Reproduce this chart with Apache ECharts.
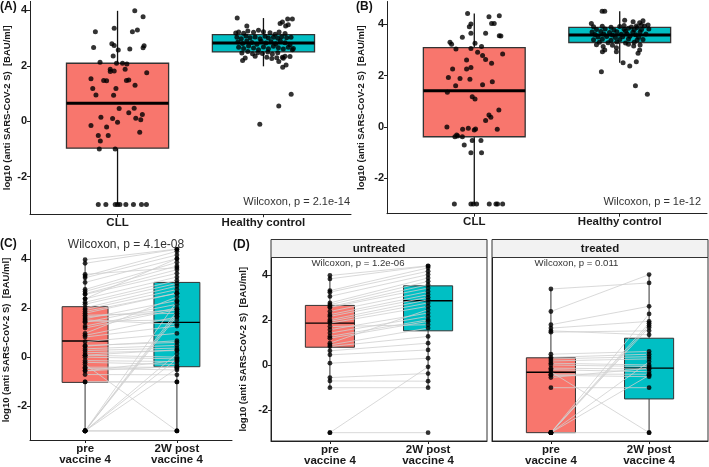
<!DOCTYPE html>
<html><head><meta charset="utf-8">
<script src="https://cdn.jsdelivr.net/npm/echarts@6/dist/echarts.min.js"></script>
<style>html,body{margin:0;padding:0;background:#fff}#c{width:709px;height:467px}</style>
</head><body><div id="c"></div>
<script>
// ---------------- DATA ----------------
const groupsAB = ['CLL', 'Healthy control'];
const groupsCD = ['pre\nvaccine 4', '2W post\nvaccine 4'];
const facets = ['untreated', 'treated'];
const yTicks = [-2, 0, 2, 4];

// box stats: [lower whisker, Q1, median, Q3, upper whisker]
const boxA = [[-3, -0.97, 0.65, 2.09, 3.98], [1.98, 2.50, 2.82, 3.12, 3.72]];
const boxB = [[-3, -0.38, 1.41, 3.09, 4.42], [2.50, 3.29, 3.58, 3.88, 4.51]];
const boxC = [[-3, -1.02, 0.67, 2.07, 3.99], [-3, -0.38, 1.43, 3.06, 4.42]];
const boxDUntreated = [[-1.0, 0.80, 1.87, 2.66, 3.99], [-1.0, 1.53, 2.87, 3.53, 4.42]];
const boxDTreated = [[-3, -3, -0.31, 0.33, 3.39], [-3, -1.5, -0.13, 1.20, 4.03]];

// jittered points: [jitter offset, value]
const cllA = [[0.118,3.98],[0.175,3.77],[-0.152,3.23],[-0.023,3.35],[0.102,3.23],[0.136,3.29],[-0.164,2.66],[-0.039,2.79],
 [-0.023,2.73],[0.084,2.60],[0.182,2.72],[0.175,2.65],[0.005,2.57],[-0.03,2.35],[-0.12,2.13],[-0.007,2.09],[0.034,2.09],
 [0.064,2.06],[-0.05,1.87],[-0.023,1.81],[-0.05,1.79],[0.052,1.87],[0.2,1.75],[-0.182,1.53],[-0.095,1.47],[-0.075,1.46],
 [0.061,1.47],[0.077,1.49],[-0.17,1.18],[-0.011,1.18],[0.12,1.30],[-0.148,0.95],[-0.027,0.94],[0.011,0.46],[-0.114,0.14],
 [-0.034,0.10],[0.077,0.31],[0.114,0.47],[0.125,0.11],[0.159,0.05],[0.17,0.24],[-0.182,-0.15],[-0.075,-0.21],[0,-0.04],
 [0.152,-0.40],[-0.132,-0.51],[-0.064,-0.51],[-0.118,-0.71],[-0.125,-1.0],[-0.016,-1.0],
 [-0.132,-3],[-0.08,-3],[-0.016,-3],[0,-3],[0.016,-3],[0.057,-3],[0.109,-3],[0.164,-3],[0.198,-3]];
const hcA = [[-0.18,3.72],[0.114,3.52],[0.13,3.58],[0.166,3.69],[0.198,3.69],[0.152,3.43],[0.17,3.48],[-0.114,3.43],
 [-0.19,3.18],[0.198,2.58],[0.148,2.34],[0.13,2.31],[-0.125,2.28],[-0.143,2.19],[0.132,1.95],[0.19,0.97],[0.105,0.55],
 [-0.025,-0.11],[0.105,2.15],[0.136,2.27],[0.155,2.03],[0.182,2.33],
 [-0.170,3.22],[-0.136,3.17],[-0.107,3.25],[-0.068,3.21],[-0.034,3.28],[0,3.23],[0.045,3.19],[0.080,3.14],[0.107,3.22],[0.148,3.16],
 [-0.182,3.03],[-0.152,2.97],[-0.120,3.07],[-0.091,3.01],[-0.057,3.04],[-0.023,2.97],[0.011,3.06],[0.034,3.00],[0.068,3.03],
 [0.098,2.99],[0.125,3.05],[0.159,3.01],[0.189,3.03],
 [-0.175,2.86],[-0.143,2.80],[-0.114,2.89],[-0.080,2.84],[-0.045,2.78],[-0.016,2.88],[0.016,2.82],[0.052,2.87],[0.084,2.79],
 [0.116,2.89],[0.148,2.83],[0.182,2.76],
 [-0.170,2.67],[-0.136,2.62],[-0.102,2.71],[-0.068,2.64],[-0.034,2.58],[0,2.68],[0.034,2.61],[0.068,2.70],[0.102,2.65],
 [0.136,2.60],[0.170,2.67],[0.205,2.62],
 [-0.148,2.46],[-0.107,2.51],[-0.075,2.43],[-0.039,2.47],[-0.007,2.44],[0.030,2.50],[0.061,2.42],[0.098,2.47],
 [-0.057,2.34],[0.023,2.31],[0.057,2.26],[0.091,2.29]];
const cllB = [[-0.046,4.42],[-0.023,4.01],[-0.034,3.90],[-0.023,3.65],[-0.082,3.49],[0.101,4.29],[0.172,4.33],[0.119,4.03],
 [0.137,4.03],[0.078,3.65],[0.172,3.55],[0.183,3.54],[-0.167,3.30],[-0.156,3.22],[-0.126,3.04],[0.005,3.26],[-0.023,3.06],
 [0.050,3.13],[0.023,2.91],[0.057,2.78],[0.078,2.63],[0.195,2.84],[-0.053,2.61],[0.119,2.48],[-0.149,2.26],[-0.053,2.26],
 [-0.023,2.32],[-0.178,1.93],[-0.098,1.89],[-0.030,1.86],[0.124,1.76],[-0.128,1.61],[0.057,1.64],[-0.185,1.35],[-0.014,1.18],
 [0.005,1.09],[0.169,0.66],[0.101,0.47],[0.114,0.38],[0.078,0.25],[-0.188,0.00],[-0.080,-0.09],[-0.041,-0.05],[0.000,-0.12],
 [0.009,-0.08],[0.158,-0.09],[-0.133,-0.38],[-0.121,-0.31],[-0.114,-0.35],[-0.082,-0.38],[-0.069,-0.70],[-0.014,-0.53],
 [0.046,-0.53],[-0.023,-1.00],[0.050,-1.00],
 [-0.137,-3],[-0.023,-3],[-0.007,-3],[0.016,-3],[0.103,-3],[0.149,-3],[0.160,-3],[0.195,-3]];
const hcB = [[-0.121,4.51],[-0.103,4.51],[-0.126,2.15],[0.023,2.50],[0.069,2.37],[0.114,2.54],[0.108,1.61],[0.19,1.27],
 [-0.114,3.13],[-0.103,3.0],[-0.119,2.93],[-0.023,3.09],[-0.023,2.93],[0.137,3.0],[0.126,2.87],[0.096,3.15],[0.034,4.16],
 [0.092,4.10],[0.137,4.06],[0.160,4.14],[0.149,3.97],[0.195,3.97],[0.114,3.93],[-0.195,4.03],
 [-0.18,3.90],[-0.12,3.92],[-0.06,3.88],[0.0,3.91],[0.03,3.95],[0.08,3.89],[0.12,3.87],[0.17,3.93],
 [-0.16,3.80],[-0.10,3.82],[-0.04,3.78],[0.03,3.81],[0.06,3.84],[0.10,3.79],[0.15,3.80],[0.20,3.82],
 [-0.19,3.70],[-0.13,3.72],[-0.07,3.68],[-0.02,3.71],[0.04,3.73],[0.09,3.69],[0.14,3.70],
 [-0.17,3.60],[-0.11,3.62],[-0.05,3.58],[0.01,3.61],[0.05,3.63],[0.11,3.59],[0.18,3.62],
 [-0.15,3.50],[-0.09,3.52],[-0.03,3.48],[0.02,3.51],[0.07,3.53],[0.13,3.49],
 [-0.18,3.40],[-0.12,3.42],[-0.06,3.38],[0.0,3.41],[0.06,3.43],[0.12,3.39],[0.16,3.41],
 [-0.14,3.30],[-0.08,3.28],[-0.02,3.31],[0.04,3.27],[0.10,3.30],
 [-0.16,3.20],[-0.05,3.18],[0.06,3.22],[0.14,3.19]];

// paired values (pre vaccine 4, 2W post vaccine 4)
const untreatedPre  = [3.99,3.84,3.32,3.25,3.06,2.77,2.69,2.60,2.57,2.39,2.25,2.17,2.02,1.95,1.87,1.72,1.58,1.43,1.28,1.20,0.98,0.90,0.83,0.64,0.46,0.09,-0.55,-0.70,-1.00,-3.00,-3.00];
const untreatedPost = [4.42,4.41,4.33,4.18,4.03,3.88,3.73,3.58,3.43,3.28,3.14,3.02,2.91,2.77,2.62,1.80,2.32,2.17,2.02,1.95,2.47,1.65,1.28,0.98,0.68,0.31,-0.37,-0.71,-1.00,-0.07,-3.00];
const treatedPre  = [3.39,2.39,1.80,1.65,1.53,1.47,0.49,0.35,0.28,0.19,0.09,0.01,-0.13,-0.20,-0.29,-0.40,-0.45,-0.55,-1.00,-3,-3,-3,-3,-3,-3,-3];
const treatedPost = [3.66,4.03,2.62,1.95,1.35,1.53,0.61,0.49,0.38,0.28,0.01,-0.06,-0.17,-0.29,-3.00,-0.40,-0.51,-0.13,-1.00,2.28,1.87,1.77,1.68,0.15,-0.45,-3.00];

const wilcoxTexts = ['Wilcoxon, p = 2.1e-14', 'Wilcoxon, p = 1e-12', 'Wilcoxon, p = 4.1e-08', 'Wilcoxon, p = 1.2e-06', 'Wilcoxon, p = 0.011'];
const panelLabels = ['(A)', '(B)', '(C)', '(D)'];
const yTitle = 'log10 (anti SARS-CoV-2 S)  [BAU/ml]';

// ---------------- CHART ----------------
const FONT = 'Liberation Sans, Arial, sans-serif';
const FILLS = ['#F8766D', '#00BFC4'];
const chart = echarts.init(document.getElementById('c'), null, {renderer: 'canvas'});

const grids = [
  {left: 30, top: 1.4, width: 321, height: 212.8},
  {left: 387, top: 1.5, width: 320, height: 212.2},
  {left: 30, top: 240, width: 202, height: 200},
  {left: 271, top: 257.5, width: 216, height: 183.5, show: true, borderColor: '#333', borderWidth: 1},
  {left: 492, top: 257.5, width: 216, height: 183.5, show: true, borderColor: '#333', borderWidth: 1}
];
const yRanges = [[-3.35, 4.32], [-3.376, 4.886], [-3.371, 4.791], [-3.371, 4.791], [-3.371, 4.791]];
const nameGaps = [18, 21, 18.5, 22.5, 0];

function xAxis(i) {
  const labels = i < 2 ? groupsAB : groupsCD;
  return {
    type: 'value', gridIndex: i, min: 0.4, max: 2.6,
    axisLine: {show: true, onZero: false, lineStyle: {color: '#222', width: 1}},
    axisTick: {show: true, customValues: [1, 2], length: 3, lineStyle: {color: '#222'}},
    axisLabel: {customValues: [1, 2], formatter: v => labels[Math.round(v) - 1] || '',
      fontFamily: FONT, fontWeight: 'bold', fontSize: 11.5, color: '#1a1a1a',
      lineHeight: 11, margin: 3},
    splitLine: {show: false}
  };
}
function yAxis(i) {
  const showLab = i !== 4;
  return {
    type: 'value', gridIndex: i, min: yRanges[i][0], max: yRanges[i][1],
    name: showLab ? yTitle : '', nameLocation: 'middle', nameRotate: 90, nameGap: nameGaps[i],
    nameTextStyle: {fontFamily: FONT, fontSize: 9.5, fontWeight: 'bold', color: '#1a1a1a'},
    axisLine: {show: true, onZero: false, lineStyle: {color: '#222', width: 1}},
    axisTick: {show: showLab, customValues: yTicks, length: 3, lineStyle: {color: '#222'}},
    axisLabel: {show: showLab, customValues: yTicks, fontFamily: FONT, fontWeight: 'bold', fontSize: 11,
      color: '#1a1a1a', margin: 3},
    splitLine: {show: false}
  };
}

function boxSeries(gi, boxes, w, thick) {
  return {
    type: 'custom', xAxisIndex: gi, yAxisIndex: gi, silent: true, z: 2,
    data: boxes.map((b, k) => [k + 1].concat(b)),
    encode: {x: 0, y: [1, 2, 3, 4, 5]},
    renderItem: (params, api) => {
      const x = api.value(0), mn = api.value(1), q1 = api.value(2), md = api.value(3), q3 = api.value(4), mx = api.value(5);
      const tl = api.coord([x - w / 2, q3]), br = api.coord([x + w / 2, q1]);
      const cTop = api.coord([x, mx]), cQ3 = api.coord([x, q3]), cQ1 = api.coord([x, q1]), cBot = api.coord([x, mn]);
      const mL = api.coord([x - w / 2, md]), mR = api.coord([x + w / 2, md]);
      const lc = thick ? '#111' : '#333';
      return {type: 'group', children: [
        {type: 'line', shape: {x1: cTop[0], y1: cTop[1], x2: cQ3[0], y2: cQ3[1]}, style: {stroke: lc, lineWidth: thick ? 1.3 : 1}},
        {type: 'line', shape: {x1: cQ1[0], y1: cQ1[1], x2: cBot[0], y2: cBot[1]}, style: {stroke: lc, lineWidth: thick ? 1.3 : 1}},
        {type: 'rect', shape: {x: tl[0], y: tl[1], width: br[0] - tl[0], height: br[1] - tl[1]},
          style: {fill: FILLS[params.dataIndex], stroke: '#333', lineWidth: thick ? 1.3 : 1}},
        {type: 'line', shape: {x1: mL[0], y1: mL[1], x2: mR[0], y2: mR[1]}, style: {stroke: '#000', lineWidth: thick ? 3 : 1.4}}
      ]};
    }
  };
}
function jitterSeries(gi, pts, cat) {
  return {type: 'scatter', xAxisIndex: gi, yAxisIndex: gi, silent: true, z: 4, symbolSize: 5,
    itemStyle: {color: '#000'}, data: pts.map(p => [cat + p[0], p[1]])};
}
function pairLines(gi, pre, post) {
  return {type: 'custom', xAxisIndex: gi, yAxisIndex: gi, silent: true, z: 3,
    data: pre.map((v, k) => [1, v, 2, post[k]]), encode: {x: [0, 2], y: [1, 3]},
    renderItem: (params, api) => {
      const a = api.coord([api.value(0), api.value(1)]), b = api.coord([api.value(2), api.value(3)]);
      return {type: 'line', shape: {x1: a[0], y1: a[1], x2: b[0], y2: b[1]}, style: {stroke: '#cfcfcf', lineWidth: 0.8}};
    }};
}
function pairPoints(gi, pre, post) {
  return {type: 'scatter', xAxisIndex: gi, yAxisIndex: gi, silent: true, z: 4, symbolSize: 4.8,
    itemStyle: {color: '#000'}, data: pre.map(v => [1, v]).concat(post.map(v => [2, v]))};
}

const allPre = untreatedPre.concat(treatedPre);
const allPost = untreatedPost.concat(treatedPost);

const series = [
  boxSeries(0, boxA, 0.7, true), jitterSeries(0, cllA, 1), jitterSeries(0, hcA, 2),
  boxSeries(1, boxB, 0.7, true), jitterSeries(1, cllB, 1), jitterSeries(1, hcB, 2),
  boxSeries(2, boxC, 0.5, false), pairLines(2, allPre, allPost), pairPoints(2, allPre, allPost),
  boxSeries(3, boxDUntreated, 0.5, false), pairLines(3, untreatedPre, untreatedPost), pairPoints(3, untreatedPre, untreatedPost),
  boxSeries(4, boxDTreated, 0.5, false), pairLines(4, treatedPre, treatedPost), pairPoints(4, treatedPre, treatedPost)
];

const txt = (x, y, text, size, align, weight, color) => ({type: 'text', x, y, silent: true, z: 10,
  style: {text, fontFamily: FONT, fontSize: size, fontWeight: weight || 'normal', fill: color || '#333',
    align: align || 'left', verticalAlign: 'middle'}});

const graphic = [
  txt(0, 7, panelLabels[0], 12, 'left', 'bold', '#111'),
  txt(356, 7, panelLabels[1], 12, 'left', 'bold', '#111'),
  txt(0, 243.5, panelLabels[2], 12, 'left', 'bold', '#111'),
  txt(233, 245, panelLabels[3], 12, 'left', 'bold', '#111'),
  txt(350, 202, wilcoxTexts[0], 11, 'right'),
  txt(701, 202, wilcoxTexts[1], 11, 'right'),
  txt(126, 245, wilcoxTexts[2], 12, 'center'),
  txt(358, 263.5, wilcoxTexts[3], 9.6, 'center'),
  txt(576.5, 263.5, wilcoxTexts[4], 9.6, 'center'),
  {type: 'rect', shape: {x: 271, y: 239.5, width: 216, height: 18}, style: {fill: '#F2F2F2', stroke: '#333', lineWidth: 1}, z: 5},
  {type: 'rect', shape: {x: 492, y: 239.5, width: 216, height: 18}, style: {fill: '#F2F2F2', stroke: '#333', lineWidth: 1}, z: 5},
  txt(379, 249, facets[0], 11.5, 'center', 'bold', '#1a1a1a'),
  txt(600, 249, facets[1], 11.5, 'center', 'bold', '#1a1a1a')
];

chart.setOption({
  animation: false,
  backgroundColor: '#fff',
  grid: grids,
  xAxis: grids.map((g, i) => xAxis(i)),
  yAxis: grids.map((g, i) => yAxis(i)),
  series,
  graphic
});
</script></body></html>
